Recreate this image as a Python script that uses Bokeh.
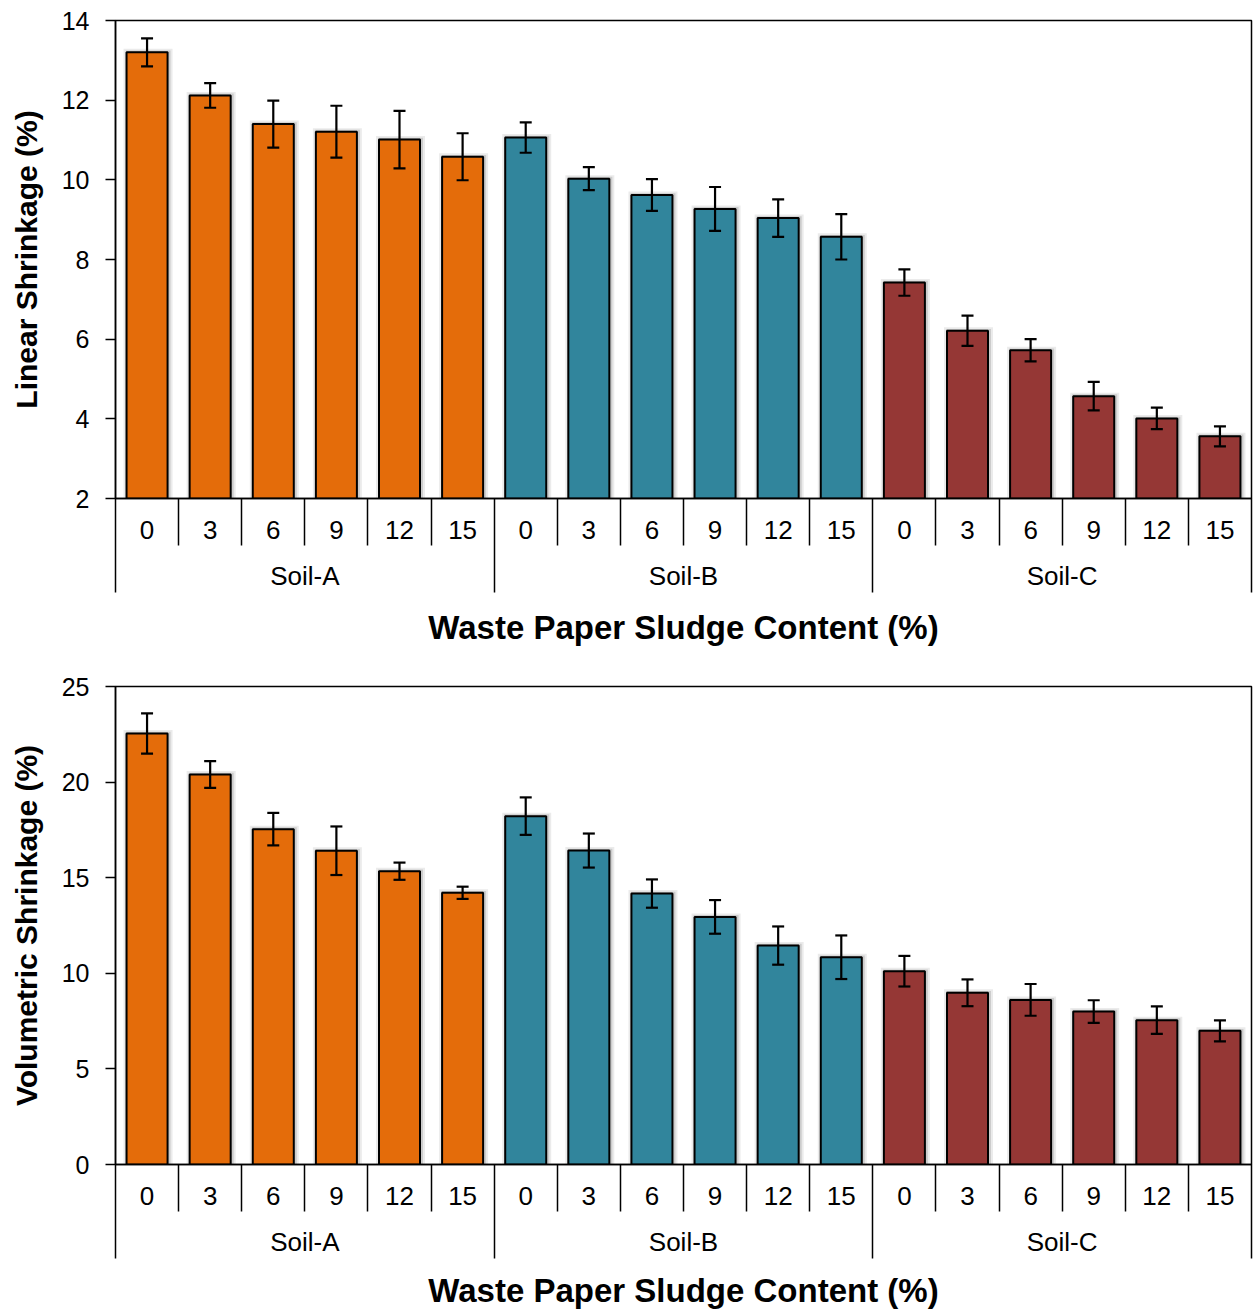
from bokeh.plotting import figure
from bokeh.models import Range1d, FixedTicker, LinearAxis, ColumnDataSource, Whisker, TeeHead
from bokeh.layouts import column
from bokeh.embed import file_html
from bokeh.resources import INLINE

# ---------------- data ----------------
contents = ["0", "3", "6", "9", "12", "15"]          # waste paper sludge content (%)
soils = ["Soil-A", "Soil-B", "Soil-C"]
soil_colors = ["#E46C0A", "#31859C", "#953735"]

linear = [13.20, 12.12, 11.40, 11.21, 11.01, 10.58,
          11.06, 10.03, 9.62, 9.27, 9.04, 8.57,
          7.42, 6.21, 5.72, 4.57, 4.01, 3.56]
linear_err = [0.35, 0.31, 0.59, 0.65, 0.72, 0.59,
              0.38, 0.29, 0.40, 0.55, 0.47, 0.57,
              0.33, 0.38, 0.28, 0.36, 0.27, 0.25]

volumetric = [22.54, 20.40, 17.54, 16.41, 15.34, 14.21,
              18.22, 16.42, 14.17, 12.95, 11.45, 10.84,
              10.11, 8.98, 8.61, 8.00, 7.55, 6.99]
volumetric_err = [1.05, 0.70, 0.85, 1.27, 0.45, 0.32,
                  0.98, 0.89, 0.74, 0.88, 1.00, 1.14,
                  0.80, 0.70, 0.83, 0.59, 0.72, 0.55]

FONT = "Liberation Sans"
FRAME_H = 478
FRAME_W = 1136


def make_panel(vals, errs, y0, y1, ystep, ylabel, height, border_top, border_bottom, title_standoff):
    ng = len(contents)
    n = len(vals)
    xs = list(range(n))
    px_y = FRAME_H / (y1 - y0)
    px_x = FRAME_W / n
    src = ColumnDataSource(dict(
        x=xs,
        top=vals,
        upper=[v + e for v, e in zip(vals, errs)],
        lower=[v - e for v, e in zip(vals, errs)],
        color=[soil_colors[i // ng] for i in xs],
        sx=[x + 1.0 / px_x for x in xs],
        s1=[v + 3.5 / px_y for v in vals],
        s2=[v + 1.8 / px_y for v in vals],
    ))
    p = figure(width=1253, height=height,
               x_range=Range1d(-0.5, n - 0.5), y_range=Range1d(y0, y1),
               output_backend="svg", toolbar_location=None,
               x_axis_location=None, y_axis_location=None,
               min_border_left=115, min_border_right=2,
               min_border_top=border_top, min_border_bottom=border_bottom)
    p.xgrid.grid_line_color = None
    p.ygrid.grid_line_color = None
    p.outline_line_color = "black"
    p.outline_line_width = 1.5
    p.background_fill_color = "white"
    p.border_fill_color = "white"

    bw = 0.65
    # soft shadow
    p.vbar(x="sx", top="s1", bottom=y0, width=bw + 8.0 / px_x, source=src,
           fill_color="black", fill_alpha=0.08, line_color=None)
    p.vbar(x="sx", top="s2", bottom=y0, width=bw + 4.0 / px_x, source=src,
           fill_color="black", fill_alpha=0.13, line_color=None)
    p.vbar(x="x", top="top", bottom=y0, width=bw, source=src,
           fill_color="color", line_color="black", line_width=2)

    wh = Whisker(source=src, base="x", upper="upper", lower="lower",
                 line_color="black", line_width=2.2,
                 upper_head=TeeHead(size=12, line_color="black", line_width=2.2),
                 lower_head=TeeHead(size=12, line_color="black", line_width=2.2))
    wh.level = "annotation"
    p.add_layout(wh)

    # y axis
    yax = LinearAxis(ticker=FixedTicker(ticks=list(range(y0, y1 + 1, ystep)), minor_ticks=[]),
                     axis_label=ylabel)
    yax.axis_line_color = "black"
    yax.axis_line_width = 1.5
    yax.major_tick_out = 10
    yax.major_tick_in = 0
    yax.major_tick_line_color = "black"
    yax.major_tick_line_width = 1.5
    yax.minor_tick_line_color = None
    yax.major_label_standoff = 16
    yax.major_label_text_font = FONT
    yax.major_label_text_font_size = "25px"
    yax.major_label_text_color = "black"
    yax.axis_label_text_font = FONT
    yax.axis_label_text_font_size = "30px"
    yax.axis_label_text_font_style = "bold"
    yax.axis_label_text_color = "black"
    yax.axis_label_standoff = 16
    p.add_layout(yax, "left")

    # group separators (long), zero-extent axis
    group_bounds = [g * ng - 0.5 for g in range(len(soils) + 1)]
    ax0 = LinearAxis(ticker=FixedTicker(ticks=[], minor_ticks=group_bounds))
    ax0.axis_line_color = None
    ax0.major_tick_line_color = None
    ax0.major_tick_out = 0
    ax0.major_tick_in = 0
    ax0.major_label_text_font_size = "0px"
    ax0.major_label_standoff = 0
    ax0.minor_tick_line_color = "black"
    ax0.minor_tick_line_width = 1.5
    ax0.minor_tick_out = 0
    ax0.minor_tick_in = -94
    p.add_layout(ax0, "below")

    # inner category axis (content %) with short separators
    inner_bounds = [i + 0.5 for i in range(n - 1) if (i + 1) % ng != 0]
    ax1 = LinearAxis(ticker=FixedTicker(ticks=xs, minor_ticks=inner_bounds),
                     major_label_overrides={i: contents[i % ng] for i in xs})
    ax1.axis_line_color = "black"
    ax1.axis_line_width = 1.5
    ax1.major_tick_line_color = None
    ax1.major_tick_out = 0
    ax1.major_tick_in = 0
    ax1.minor_tick_line_color = "black"
    ax1.minor_tick_line_width = 1.5
    ax1.minor_tick_out = 0
    ax1.minor_tick_in = -47
    ax1.major_label_standoff = 22
    ax1.major_label_text_font = FONT
    ax1.major_label_text_font_size = "26px"
    ax1.major_label_text_color = "black"
    p.add_layout(ax1, "below")

    # outer category axis (soil) + title
    centers = [g * ng + (ng - 1) / 2 for g in range(len(soils))]
    ax2 = LinearAxis(ticker=FixedTicker(ticks=centers, minor_ticks=[]),
                     major_label_overrides={c: s for c, s in zip(centers, soils)},
                     axis_label="Waste Paper Sludge Content (%)")
    ax2.axis_line_color = None
    ax2.major_tick_line_color = None
    ax2.minor_tick_line_color = None
    ax2.major_tick_out = 0
    ax2.major_tick_in = 0
    ax2.minor_tick_out = 0
    ax2.minor_tick_in = 0
    ax2.major_label_standoff = 19
    ax2.major_label_text_font = FONT
    ax2.major_label_text_font_size = "26px"
    ax2.major_label_text_color = "black"
    ax2.axis_label_text_font = FONT
    ax2.axis_label_text_font_size = "33px"
    ax2.axis_label_text_font_style = "bold"
    ax2.axis_label_text_color = "black"
    ax2.axis_label_standoff = title_standoff
    p.add_layout(ax2, "below")
    return p


p1 = make_panel(linear, linear_err, 2, 14, 2, "Linear Shrinkage (%)",
                height=655, border_top=20, border_bottom=157, title_standoff=15)
p2 = make_panel(volumetric, volumetric_err, 0, 25, 5, "Volumetric Shrinkage (%)",
                height=656, border_top=31, border_bottom=147, title_standoff=12)

layout = column(p1, p2, spacing=0)
open("out.html", "w").write(file_html(layout, INLINE))
